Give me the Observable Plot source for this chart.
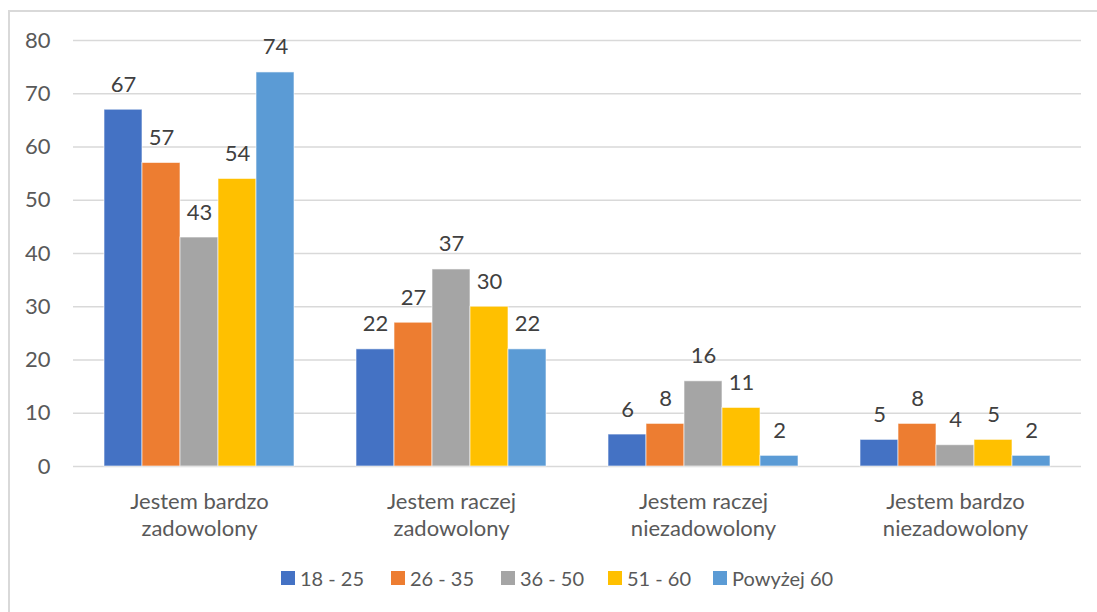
<!DOCTYPE html>
<html>
<head>
<meta charset="utf-8">
<script src="https://cdn.jsdelivr.net/npm/d3@7"></script>
<script src="https://cdn.jsdelivr.net/npm/@observablehq/plot@0.6"></script>
<style>
  html, body { margin: 0; padding: 0; background: #fff; width: 1097px; height: 612px; overflow: hidden; }
  #frame { position: absolute; left: 8px; top: 10px; width: 1200px; height: 700px;
           border-left: 2px solid #d9d9d9; border-top: 2px solid #d9d9d9; box-sizing: border-box; }
  #chart { position: absolute; left: 0; top: 0; }
  #legend { position: absolute; left: 281px; top: 566px; display: flex; align-items: center;
            font-family: Lato, sans-serif; font-size: 20px; color: #595959; white-space: nowrap; }
  #legend .item { display: flex; align-items: center; }
  #legend .sw { width: 14px; height: 14px; margin-right: 5px; flex: none; }
</style>
</head>
<body>
<div id="frame"></div>
<div id="chart"></div>
<div id="legend"></div>
<script>
const categories = ["Jestem bardzo\nzadowolony", "Jestem raczej\nzadowolony", "Jestem raczej\nniezadowolony", "Jestem bardzo\nniezadowolony"];
const series = ["18 - 25", "26 - 35", "36 - 50", "51 - 60", "Powyżej 60"];
const colors = ["#4472C4", "#ED7D31", "#A5A5A5", "#FFC000", "#5B9BD5"];
const v18_25 = [67, 22, 6, 5];
const v26_35 = [57, 27, 8, 8];
const v36_50 = [43, 37, 16, 4];
const v51_60 = [54, 30, 11, 5];
const vPowyzej60 = [74, 22, 2, 2];
const yTicks = [0, 10, 20, 30, 40, 50, 60, 70, 80];

const seriesValues = [v18_25, v26_35, v36_50, v51_60, vPowyzej60];
const data = [];
categories.forEach((c, i) => series.forEach((s, j) => data.push({cat: c, series: s, value: seriesValues[j][i]})));

const chart = Plot.plot({
  width: 1097,
  height: 545,
  marginTop: 40,
  marginBottom: 79,
  marginLeft: 72,
  marginRight: 15,
  style: {fontFamily: "Lato, sans-serif", fontSize: "22px", color: "#595959", background: "transparent"},
  fx: {domain: categories, padding: 0, label: null},
  x: {domain: series, paddingInner: 0, paddingOuter: 0.75, axis: null},
  y: {domain: [0, 80], label: null},
  color: {domain: series, range: colors},
  marks: [
    Plot.gridY(yTicks, {stroke: "#d9d9d9", strokeOpacity: 1, strokeWidth: 1.4}),
    Plot.axisY(yTicks, {tickSize: 0, tickPadding: 23, label: null, fill: "#595959", fontSize: 22}),
    Plot.axisFx({anchor: "bottom", tickSize: 0, tickPadding: 23, lineHeight: 1.23, label: null, fill: "#595959", fontSize: 22}),
    Plot.barY(data, {fx: "cat", x: "series", y: "value", fill: "series", stroke: "white", strokeWidth: 1, strokeOpacity: 0.6}),
    Plot.text(data, {fx: "cat", x: "series", y: "value", text: d => String(d.value), dy: -18, lineAnchor: "bottom", fill: "#404040", fontSize: 22})
  ]
});
document.getElementById("chart").appendChild(chart);

const legendItemWidths = [110, 110, 107, 105, null];
const legend = document.getElementById("legend");
series.forEach((s, i) => {
  const item = document.createElement("div");
  item.className = "item";
  if (legendItemWidths[i]) item.style.width = legendItemWidths[i] + "px";
  const sw = document.createElement("div");
  sw.className = "sw";
  sw.style.background = colors[i];
  const t = document.createElement("span");
  t.textContent = s;
  item.appendChild(sw);
  item.appendChild(t);
  legend.appendChild(item);
});
</script>
</body>
</html>
